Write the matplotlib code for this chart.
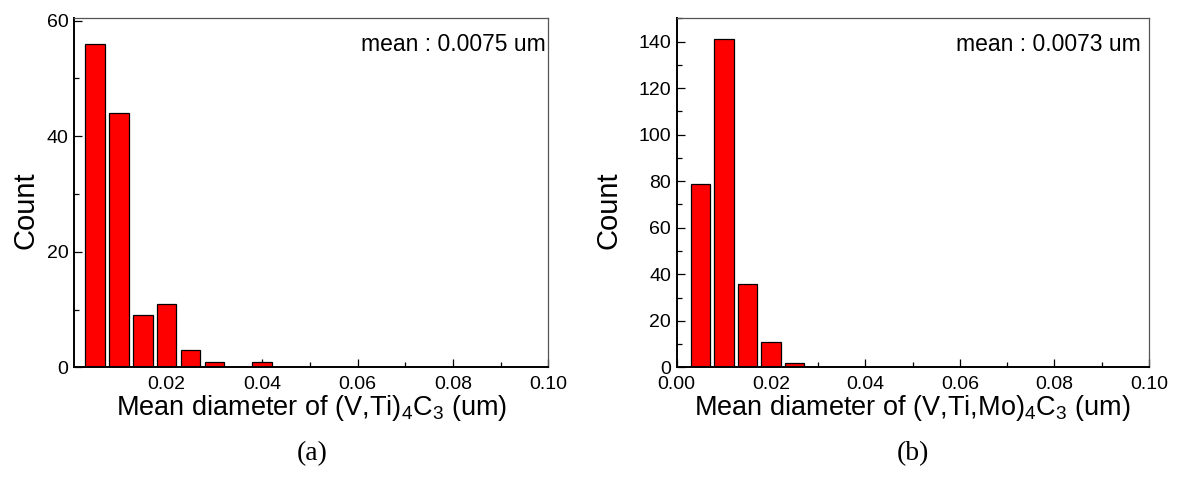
import matplotlib
matplotlib.use("Agg")
import matplotlib.pyplot as plt
from matplotlib.ticker import MultipleLocator, FormatStrFormatter

plt.rcParams['font.family'] = ['Liberation Sans', 'DejaVu Sans']
plt.rcParams['mathtext.default'] = 'regular'

# Histogram bins (bin centres, um) and counts
bins_a = [0.005, 0.010, 0.015, 0.020, 0.025, 0.030, 0.035, 0.040]
counts_a = [56, 44, 9, 11, 3, 1, 0, 1]
bins_b = [0.005, 0.010, 0.015, 0.020, 0.025]
counts_b = [79, 141, 36, 11, 2]

mean_a = "mean : 0.0075 um"
mean_b = "mean : 0.0073 um"
xlabel_a = r"Mean diameter of (V,Ti)$_4$C$_3$ (um)"
xlabel_b = r"Mean diameter of (V,Ti,Mo)$_4$C$_3$ (um)"
panel_tags = ["(a)", "(b)"]

fig = plt.figure(figsize=(11.77, 4.86), dpi=100)
ax_a = fig.add_axes([0.0629, 0.2442, 0.4031, 0.7181])
ax_b = fig.add_axes([0.5749, 0.2442, 0.4011, 0.7181])

panels = [
    (ax_a, bins_a, counts_a, mean_a, xlabel_a, (0.0006, 0.1), (0, 60.4), -0.072, 0.995),
    (ax_b, bins_b, counts_b, mean_b, xlabel_b, (0.0, 0.1), (0, 150), -0.115, 0.983),
]

for ax, bins, counts, mean_txt, xlab, xlim, ylim, ylab_x, mean_x in panels:
    ax.bar(bins, counts, width=0.0041, color='#ff0000', edgecolor='black',
           linewidth=0.9, zorder=2)
    ax.set_xlim(*xlim)
    ax.set_ylim(*ylim)
    ax.xaxis.set_major_locator(MultipleLocator(0.02))
    ax.xaxis.set_minor_locator(MultipleLocator(0.01))
    ax.xaxis.set_major_formatter(FormatStrFormatter('%.2f'))
    ax.yaxis.set_major_locator(MultipleLocator(20))
    ax.yaxis.set_minor_locator(MultipleLocator(10))
    ax.tick_params(which='both', direction='in', top=False, right=False,
                   width=0.9, color='black')
    ax.tick_params(which='major', length=6, labelsize=14)
    ax.tick_params(axis='x', which='major', pad=6)
    ax.tick_params(axis='y', which='major', pad=4)
    ax.tick_params(which='minor', length=3.5)
    for side in ('left', 'bottom'):
        ax.spines[side].set_linewidth(1.4)
        ax.spines[side].set_color('black')
    for side in ('top', 'right'):
        ax.spines[side].set_linewidth(0.9)
        ax.spines[side].set_color('#555555')
    ax.set_ylabel("Count", fontsize=21)
    ax.yaxis.set_label_coords(ylab_x, 0.45)
    ax.set_xlabel(xlab, fontsize=19.5, labelpad=0)
    ax.text(mean_x, 0.925, mean_txt, transform=ax.transAxes, ha='right',
            va='center', fontsize=16.5)

fig.text(0.265, 0.066, panel_tags[0], ha='center', va='center', fontsize=20,
         family='Liberation Serif')
fig.text(0.7755, 0.066, panel_tags[1], ha='center', va='center', fontsize=20,
         family='Liberation Serif')

fig.savefig("out.png", dpi=100)
